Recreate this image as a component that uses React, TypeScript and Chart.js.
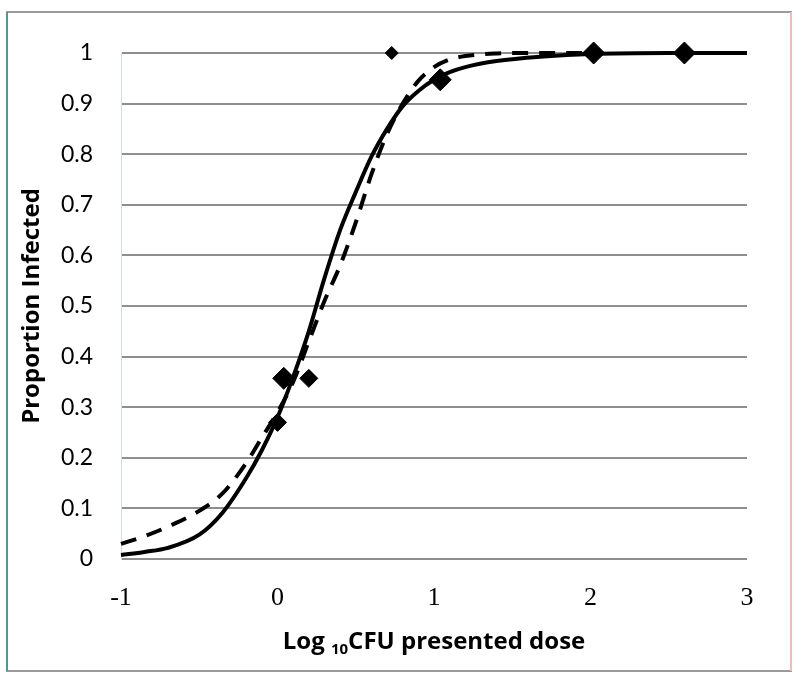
import React, { useEffect, useRef } from "react";
import { Chart, registerables } from "chart.js";

Chart.register(...registerables);

// ---- data ----
const solidX = [-1, -0.85, -0.7, -0.5, -0.35, -0.2, -0.1, 0, 0.1, 0.2, 0.3, 0.4, 0.5, 0.6, 0.7, 0.8, 0.9, 1.0, 1.1, 1.2, 1.4, 1.7, 2.0, 2.5, 3.0];
const solidY = [0.008, 0.014, 0.022, 0.048, 0.092, 0.16, 0.215, 0.28, 0.36, 0.45, 0.555, 0.65, 0.725, 0.795, 0.85, 0.895, 0.925, 0.947, 0.962, 0.972, 0.984, 0.993, 0.998, 1.0, 1.0];

const dashedX = [-1, -0.85, -0.7, -0.5, -0.35, -0.2, -0.1, 0, 0.1, 0.2, 0.3, 0.4, 0.5, 0.6, 0.7, 0.8, 0.9, 1.0, 1.1, 1.2, 1.4, 1.6, 2.0];
const dashedY = [0.03, 0.045, 0.064, 0.095, 0.13, 0.19, 0.24, 0.29, 0.35, 0.43, 0.51, 0.58, 0.665, 0.76, 0.84, 0.9, 0.945, 0.972, 0.987, 0.994, 0.999, 1.0, 1.0];

const largeX = [0.04, 1.04, 2.02, 2.6];
const largeY = [0.357, 0.947, 1, 1];
const mediumX = [0, 0.2];
const mediumY = [0.27, 0.357];
const smallX = [0.73];
const smallY = [1];

const xTickValues = [-1, 0, 1, 2, 3];
const yTickValues = [0, 0.1, 0.2, 0.3, 0.4, 0.5, 0.6, 0.7, 0.8, 0.9, 1];

const yTitle = "Proportion Infected";
const xTitleMain = "Log ";
const xTitleSub = "10";
const xTitleRest = "CFU presented dose";

const pts = (xs: number[], ys: number[]) => xs.map((x, i) => ({ x, y: ys[i] }));

const framePlugin = {
  id: "frame",
  afterDraw(chart: any) {
    const ctx = chart.ctx;
    ctx.save();
    ctx.lineWidth = 2;
    ctx.strokeStyle = "#9a9a9a";
    ctx.beginPath();
    ctx.moveTo(6, 12);
    ctx.lineTo(792, 12);
    ctx.moveTo(6, 671);
    ctx.lineTo(792, 671);
    ctx.stroke();
    ctx.strokeStyle = "#4f9797";
    ctx.beginPath();
    ctx.moveTo(7, 12);
    ctx.lineTo(7, 671);
    ctx.stroke();
    ctx.strokeStyle = "#f2bcbc";
    ctx.beginPath();
    ctx.moveTo(791, 12);
    ctx.lineTo(791, 671);
    ctx.stroke();

    // x axis title with subscript
    const area = chart.chartArea;
    const cx = (area.left + area.right) / 2;
    const baseY = 649;
    const big = "bold 24px 'Open Sans', Lato, sans-serif";
    const small = "bold 15px 'Open Sans', Lato, sans-serif";
    ctx.fillStyle = "#000";
    ctx.textBaseline = "alphabetic";
    ctx.textAlign = "left";
    ctx.font = big;
    const w1 = ctx.measureText(xTitleMain).width;
    const w3 = ctx.measureText(xTitleRest).width;
    ctx.font = small;
    const w2 = ctx.measureText(xTitleSub).width;
    let x = cx - (w1 + w2 + w3) / 2;
    ctx.font = big;
    ctx.fillText(xTitleMain, x, baseY);
    x += w1;
    ctx.font = small;
    ctx.fillText(xTitleSub, x, baseY + 5);
    x += w2;
    ctx.font = big;
    ctx.fillText(xTitleRest, x, baseY);
    ctx.restore();
  },
};

export default function App() {
  const ref = useRef<HTMLCanvasElement | null>(null);

  useEffect(() => {
    if (!ref.current) return;
    const chart = new Chart(ref.current, {
      type: "scatter",
      data: {
        datasets: [
          {
            label: "large",
            data: pts(largeX, largeY),
            pointStyle: "rectRot",
            pointRadius: 11,
            backgroundColor: "#000",
            borderColor: "#000",
            showLine: false,
            clip: false,
            order: 0,
          },
          {
            label: "medium",
            data: pts(mediumX, mediumY),
            pointStyle: "rectRot",
            pointRadius: 9,
            backgroundColor: "#000",
            borderColor: "#000",
            showLine: false,
            clip: false,
            order: 0,
          },
          {
            label: "small",
            data: pts(smallX, smallY),
            pointStyle: "rectRot",
            pointRadius: 6.5,
            backgroundColor: "#000",
            borderColor: "#000",
            showLine: false,
            clip: false,
            order: 0,
          },
          {
            label: "model 1",
            data: pts(solidX, solidY),
            showLine: true,
            pointRadius: 0,
            borderColor: "#000",
            borderWidth: 4,
            cubicInterpolationMode: "monotone",
            clip: false,
            order: 2,
          },
          {
            label: "model 2",
            data: pts(dashedX, dashedY),
            showLine: true,
            pointRadius: 0,
            borderColor: "#000",
            borderWidth: 4,
            borderDash: [16, 11],
            cubicInterpolationMode: "monotone",
            clip: false,
            order: 1,
          },
        ],
      },
      options: {
        animation: false,
        responsive: false,
        maintainAspectRatio: false,
        layout: { padding: { left: 0, right: 53, top: 53, bottom: 0 } },
        plugins: { legend: { display: false }, tooltip: { enabled: false } },
        scales: {
          x: {
            type: "linear",
            min: -1,
            max: 3,
            afterFit: (s: any) => {
              s.height = 122;
            },
            afterBuildTicks: (s: any) => {
              s.ticks = xTickValues.map((v) => ({ value: v }));
            },
            grid: { display: false, drawTicks: false },
            border: { display: false },
            ticks: {
              padding: 24,
              color: "#000",
              font: { family: "'Liberation Serif', serif", size: 26 },
              callback: (v: any) => String(v),
            },
          },
          y: {
            type: "linear",
            min: 0,
            max: 1,
            afterFit: (s: any) => {
              s.width = 121;
            },
            afterBuildTicks: (s: any) => {
              s.ticks = yTickValues.map((v) => ({ value: v }));
            },
            grid: { color: "#8e8e8e", lineWidth: 2, drawTicks: false },
            border: { display: true, color: "#cfdede", width: 1 },
            ticks: {
              padding: 28,
              color: "#000",
              font: { family: "Lato, 'Open Sans', sans-serif", size: 23 },
              callback: (v: any) => String(Math.round(v * 10) / 10),
            },
            title: {
              display: true,
              text: yTitle,
              color: "#000",
              font: { family: "'Open Sans', Lato, sans-serif", size: 24, weight: "bold" },
              padding: { top: 18, bottom: 0 },
            },
          },
        },
      },
      plugins: [framePlugin],
    } as any);
    return () => chart.destroy();
  }, []);

  return (
    <div style={{ position: "fixed", left: 0, top: 0, width: 800, height: 681, background: "#fff" }}>
      <canvas ref={ref} width={800} height={681} style={{ width: 800, height: 681 }} />
    </div>
  );
}
